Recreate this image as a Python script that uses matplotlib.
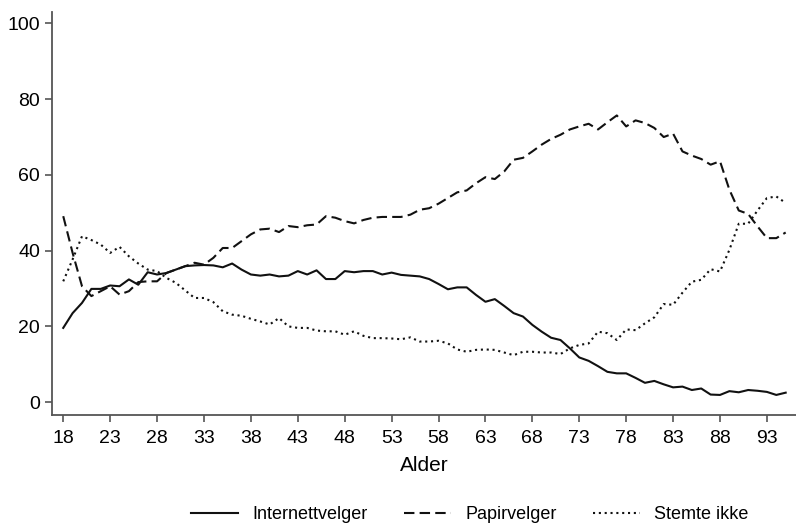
import numpy as np
import matplotlib
matplotlib.use("Agg")
import matplotlib.pyplot as plt

# age 18..95
ages = list(range(18, 96))

internett = [19.6, 23.5, 26.2, 29.9, 29.9, 30.8, 30.6, 32.4, 31.0, 34.3,
             33.7, 34.1, 35.0, 35.9, 36.1, 36.2, 36.1, 35.6, 36.6, 35.0,
             33.7, 33.4, 33.7, 33.2, 33.4, 34.6, 33.7, 34.8, 32.5, 32.5,
             34.6, 34.3, 34.6, 34.6, 33.7, 34.2, 33.6, 33.4, 33.2, 32.5,
             31.2, 29.8, 30.3, 30.3, 28.3, 26.5, 27.2, 25.4, 23.5, 22.6,
             20.4, 18.6, 17.0, 16.4, 14.2, 11.8, 10.9, 9.5, 8.0, 7.6,
             7.6, 6.4, 5.1, 5.6, 4.7, 3.9, 4.1, 3.2, 3.6, 2.0,
             1.9, 2.9, 2.6, 3.2, 3.0, 2.7, 1.9, 2.5]

papir = [49.1, 39.4, 30.6, 28.0, 29.3, 30.6, 28.4, 29.3, 31.7, 31.9,
         31.9, 34.1, 35.0, 35.9, 36.8, 36.3, 38.1, 40.7, 40.7, 42.5,
         44.3, 45.6, 45.8, 44.9, 46.5, 46.2, 46.7, 46.9, 49.1, 48.7,
         47.8, 47.2, 48.1, 48.7, 48.9, 48.9, 48.9, 49.5, 50.8, 51.2,
         52.4, 53.9, 55.4, 55.9, 57.8, 59.4, 58.9, 60.9, 64.0, 64.5,
         66.2, 68.0, 69.5, 70.6, 72.0, 72.8, 73.5, 72.0, 73.9, 75.7,
         72.8, 74.4, 73.7, 72.4, 70.0, 70.9, 66.2, 65.1, 64.2, 62.7,
         63.6, 56.1, 50.6, 49.7, 46.4, 43.3, 43.3, 44.8]

stemte_ikke = [31.9, 37.7, 43.8, 42.8, 41.6, 39.4, 41.0, 38.5, 36.6, 35.0,
               34.6, 32.8, 31.5, 29.5, 27.5, 27.5, 26.4, 24.0, 23.1, 22.8,
               22.0, 21.3, 20.5, 22.2, 20.0, 19.6, 19.6, 18.9, 18.7, 18.7,
               17.8, 18.7, 17.5, 16.9, 16.9, 16.8, 16.6, 17.1, 16.0, 16.0,
               16.2, 15.5, 13.9, 13.3, 13.8, 13.9, 13.8, 13.1, 12.4, 13.3,
               13.3, 13.1, 13.1, 12.7, 14.2, 15.1, 15.5, 18.6, 18.2, 16.4,
               19.2, 19.0, 20.8, 22.4, 25.9, 25.7, 28.9, 31.8, 32.3, 35.1,
               34.5, 40.2, 47.1, 47.1, 50.6, 53.9, 54.3, 52.6]

xticks = list(range(18, 94, 5))
yticks = [0, 20, 40, 60, 80, 100]

plt.rcParams['font.family'] = ['Liberation Sans', 'DejaVu Sans']

fig = plt.figure(figsize=(7.96, 5.24), dpi=100)
ax = fig.add_axes([0.0653, 0.208, 0.9347, 0.769])

ax.plot(ages, internett, color='#111111', lw=1.5, label='Internettvelger')
ax.plot(ages, papir, color='#111111', lw=1.5, dashes=(5, 2.5), label='Papirvelger')
ax.plot(ages, stemte_ikke, color='#111111', lw=1.5, dashes=(1, 1.8), label='Stemte ikke')

ax.set_xlim(16.8, 96.1)
ax.set_ylim(-3.4, 103)
ax.set_xticks(xticks)
ax.set_yticks(yticks)
ax.tick_params(labelsize=14, length=5, width=1.2, color='#555555')
ax.tick_params(axis='x', pad=6)

for s in ['top', 'right']:
    ax.spines[s].set_visible(False)
for s in ['left', 'bottom']:
    ax.spines[s].set_color('#555555')
    ax.spines[s].set_linewidth(1.3)

ax.set_xlabel('Alder', fontsize=15, labelpad=6)

fig.legend(loc='lower center', bbox_to_anchor=(0.59, -0.03), ncol=3,
           frameon=False, fontsize=13, handlelength=2.6, columnspacing=2.0)

plt.savefig('out.png', dpi=100)
